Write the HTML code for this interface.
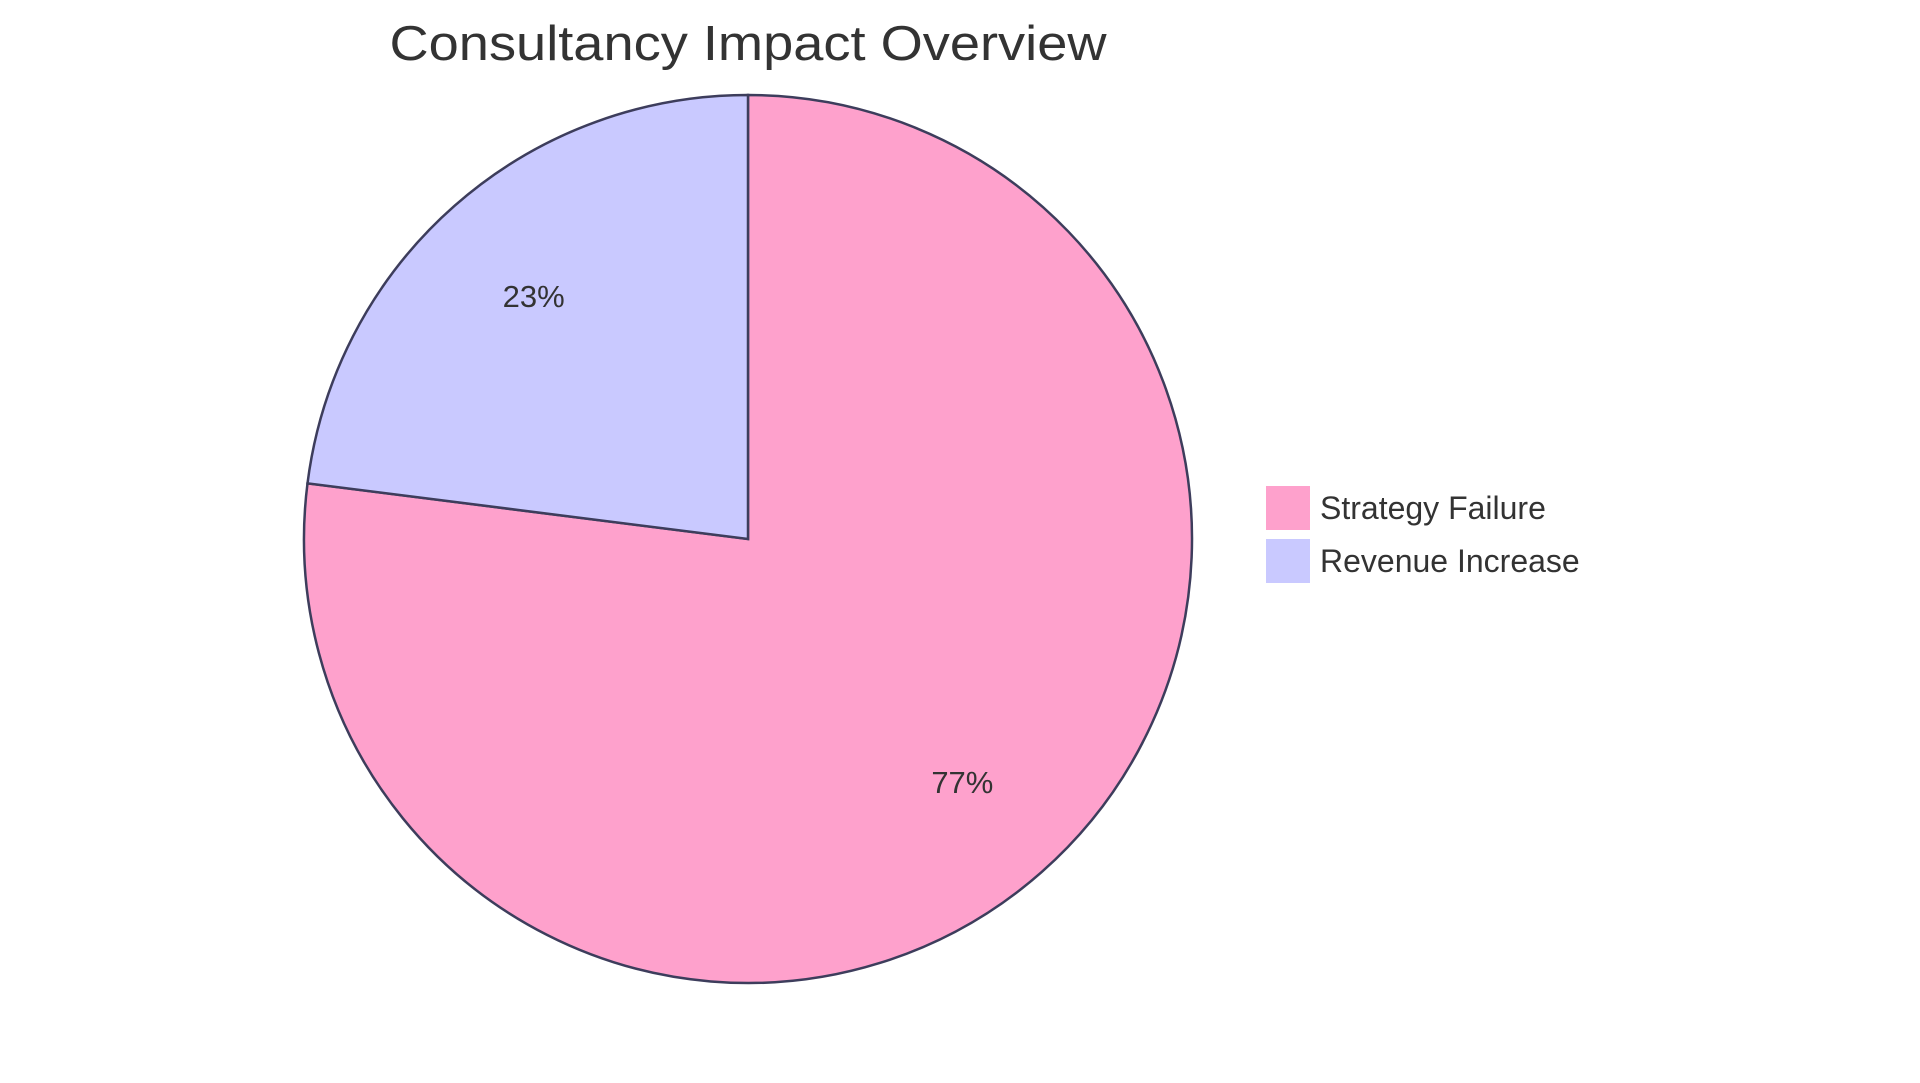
<!DOCTYPE html>
<html><head><meta charset="utf-8"><style>
html,body{margin:0;padding:0;background:#fff;}
svg{display:block;font-family:"Liberation Sans",sans-serif;}
</style></head><body>
<svg width="1920" height="1083" viewBox="0 0 1920 1083">
<text x="748" y="60" text-anchor="middle" font-size="49" fill="#333" textLength="717" lengthAdjust="spacingAndGlyphs">Consultancy Impact Overview</text>
<g id="slices"></g>
<g id="labels"></g>
<g id="legend"></g>
</svg>
<script>
const categories = ["Strategy Failure", "Revenue Increase"];
const values = [77, 23];
const colors = ["#FEA1CC", "#C9C9FF"];
const cx = 748, cy = 539, r = 444;
const ns = "http://www.w3.org/2000/svg";
const total = values.reduce((a,b)=>a+b,0);
const slices = document.getElementById('slices');
const labels = document.getElementById('labels');
const legend = document.getElementById('legend');
function pt(a, rr){ return [cx + rr*Math.sin(a), cy - rr*Math.cos(a)]; }
let start = 0;
values.forEach((v,i)=>{
  const ang = v/total*2*Math.PI;
  const end = start + ang;
  const [x1,y1] = pt(start, r), [x2,y2] = pt(end, r);
  const p = document.createElementNS(ns,'path');
  p.setAttribute('d', `M${cx},${cy} L${x1},${y1} A${r},${r} 0 ${ang>Math.PI?1:0} 1 ${x2},${y2} Z`);
  p.setAttribute('fill', colors[i]);
  p.setAttribute('stroke', '#3d3d5c');
  p.setAttribute('stroke-width', '2.5');
  
  
  slices.appendChild(p);
  const [lx,ly] = pt(start + ang/2, r*0.73);
  const t = document.createElementNS(ns,'text');
  t.setAttribute('x', lx); t.setAttribute('y', ly + 11);
  t.setAttribute('text-anchor','middle');
  t.setAttribute('font-size','31');
  t.setAttribute('fill','#333');
  t.textContent = Math.round(v/total*100) + '%';
  
  
  labels.appendChild(t);
  const g = document.createElementNS(ns,'g');
  
  
  const sq = document.createElementNS(ns,'rect');
  sq.setAttribute('x', 1266); sq.setAttribute('y', 486 + i*53);
  sq.setAttribute('width', 44); sq.setAttribute('height', 44);
  sq.setAttribute('fill', colors[i]);
  
  
  const lt = document.createElementNS(ns,'text');
  lt.setAttribute('x', 1320); lt.setAttribute('y', 519 + i*53);
  lt.setAttribute('font-size', '32');
  lt.setAttribute('fill', '#333');
  lt.textContent = categories[i];
  
  
  g.appendChild(sq); g.appendChild(lt);
  legend.appendChild(g);
  start = end;
});
</script>
</body></html>
